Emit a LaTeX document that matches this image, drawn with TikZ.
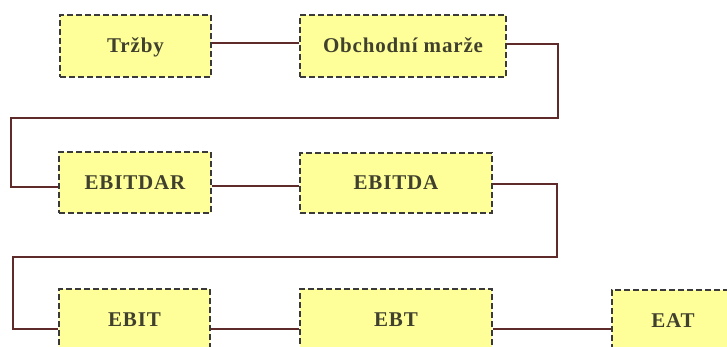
\documentclass[tikz,border=0pt]{standalone}
\usepackage{fontspec}
\newfontfamily\boxfont{Liberation Serif}[LetterSpace=4]
\definecolor{boxfill}{HTML}{FFFF99}
\definecolor{boxline}{HTML}{3A3A3A}
\definecolor{conn}{HTML}{5E2A2A}
\definecolor{boxtext}{HTML}{40402E}
\begin{document}
\begin{tikzpicture}[x=1pt,y=-1pt,
  fbox/.style={draw=boxline, fill=boxfill, line width=1.3pt,
    dash pattern=on 6pt off 3pt, rectangle, inner sep=0pt,
    minimum height=62pt, text height=13.9pt, text depth=0pt,
    font=\boxfont\bfseries\fontsize{21}{24}\selectfont, text=boxtext},
  conline/.style={draw=conn, line width=1.5pt}]
\useasboundingbox (0,0) rectangle (727,347);
\node[fbox, minimum width=151pt] (trzby) at (135.5,46) {Tržby};
\node[fbox, minimum width=206pt] (marze) at (403,46) {Obchodní marže};
\node[fbox, minimum width=152pt, minimum height=61pt] (ebitdar) at (135,182.5) {EBITDAR};
\node[fbox, minimum width=192pt, minimum height=60pt] (ebitda) at (396,183) {EBITDA};
\node[fbox, minimum width=151pt] (ebit) at (134.5,320) {EBIT};
\node[fbox, minimum width=192pt] (ebt) at (396,320) {EBT};
\node[fbox, minimum width=122pt] (eat) at (673,321) {EAT};
\coordinate (c1a) at (558,44);
\coordinate (c1b) at (558,118);
\coordinate (c1c) at (11,118);
\coordinate (c1d) at (11,187);
\coordinate (c2a) at (557,184);
\coordinate (c2b) at (557,257);
\coordinate (c2c) at (13,257);
\coordinate (c2d) at (13,329);
\draw[conline] (trzby.east |- 0,43) -- (marze.west |- 0,43);
\draw[conline] (marze.east |- c1a) -- (c1a) -- (c1b) -- (c1c) -- (c1d) -- (ebitdar.west |- c1d);
\draw[conline] (ebitdar.east |- 0,186) -- (ebitda.west |- 0,186);
\draw[conline] (ebitda.east |- c2a) -- (c2a) -- (c2b) -- (c2c) -- (c2d) -- (ebit.west |- c2d);
\draw[conline] (ebit.east |- 0,329) -- (ebt.west |- 0,329);
\draw[conline] (ebt.east |- 0,329) -- (eat.west |- 0,329);
\end{tikzpicture}
\end{document}
